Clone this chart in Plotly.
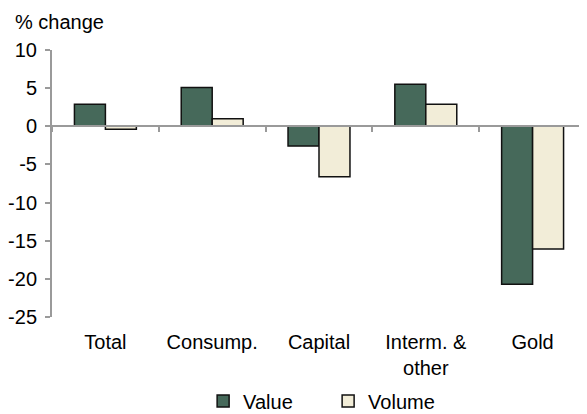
import plotly.graph_objects as go

categories = ["Total", "Consump.", "Capital", "Interm. &<br>other", "Gold"]
value_change = [2.9, 5.1, -2.6, 5.5, -20.7]
volume_change = [-0.4, 1.0, -6.6, 2.9, -16.1]
y_ticks = [10, 5, 0, -5, -10, -15, -20, -25]
y_tick_labels = ["10", "5", "0", "-5", "-10", "-15", "-20", "-25"]

y_min, y_max = -25, 10
font = "Liberation Sans, Arial, sans-serif"

fig = go.Figure()
fig.add_trace(go.Bar(
    x=categories, y=value_change, name="Value",
    marker=dict(color="#46695A", line=dict(color="#111111", width=1.5)),
))
fig.add_trace(go.Bar(
    x=categories, y=volume_change, name="Volume",
    marker=dict(color="#F2EDD8", line=dict(color="#111111", width=1.5)),
))
# invisible carrier for the bottom category labels
fig.add_trace(go.Scatter(
    x=categories, y=value_change, xaxis="x2", mode="markers",
    marker=dict(opacity=0), showlegend=False, hoverinfo="skip",
))

zero_pos = (0 - y_min) / (y_max - y_min)

# page body adds an 8px margin, so the figure is 8px smaller than the window
fig.update_layout(
    width=579, height=406,
    margin=dict(l=44, r=1, t=42, b=97, autoexpand=False),
    paper_bgcolor="white", plot_bgcolor="white",
    font=dict(family=font, size=20, color="#000000"),
    barmode="group", bargap=0.42, bargroupgap=0,
    xaxis=dict(
        anchor="free", position=zero_pos, automargin=False,
        showline=True, linecolor="#9a9a9a", linewidth=2,
        ticks="outside", tickson="boundaries", ticklen=5, tickcolor="#9a9a9a", tickwidth=2,
        showticklabels=False, showgrid=False, zeroline=False,
        range=[-0.5, 4.5],
    ),
    xaxis2=dict(
        overlaying="x", matches="x", anchor="y", side="bottom", automargin=False,
        showline=False, ticks="", showgrid=False, zeroline=False,
        ticklabelstandoff=11,
    ),
    yaxis=dict(
        range=[y_min, y_max], tickvals=y_ticks, ticktext=y_tick_labels, automargin=False,
        showline=True, linecolor="#9a9a9a", linewidth=2,
        ticks="outside", ticklen=5, tickcolor="#9a9a9a", tickwidth=2,
        showgrid=False, zeroline=False, ticklabelstandoff=4,
    ),
    legend=dict(
        orientation="h", x=0.283, xanchor="left", y=-0.315, yanchor="middle",
        font=dict(size=20), itemwidth=30, entrywidth=80,
    ),
    annotations=[dict(
        text="% change", xref="paper", yref="paper", x=-0.073, y=1.155,
        xanchor="left", yanchor="top", showarrow=False, font=dict(size=20),
    )],
)

fig.write_html("out.html")
